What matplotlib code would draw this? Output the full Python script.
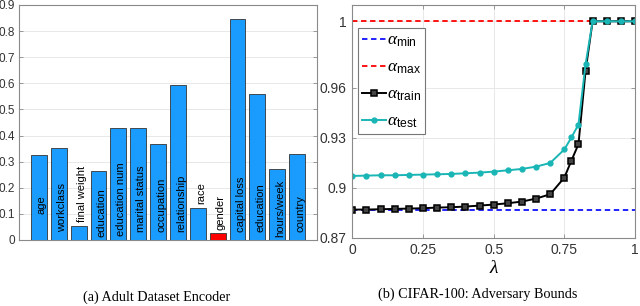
import numpy as np
import matplotlib
matplotlib.use('Agg')
import matplotlib.pyplot as plt
from matplotlib import rcParams
rcParams['font.family'] = 'sans-serif'
rcParams['font.sans-serif'] = ['Liberation Sans', 'DejaVu Sans']
rcParams['mathtext.fontset'] = 'custom'
rcParams['mathtext.rm'] = 'Liberation Sans'
rcParams['mathtext.it'] = 'Liberation Serif:italic'

# (a) adult dataset encoder
features = ['age', 'workclass', 'final weight', 'education', 'education num',
            'marital status', 'occupation', 'relationship', 'race', 'gender',
            'capital loss', 'education', 'hours/week', 'country']
scores = [0.327, 0.352, 0.052, 0.263, 0.428, 0.430, 0.368, 0.595, 0.121,
          0.028, 0.848, 0.560, 0.270, 0.330]
label_base = [0.10, 0.03, 0.07, 0.01, 0.015, 0.03, 0.03, 0.03, 0.138,
              0.038, 0.03, 0.03, 0.01, 0.03]

# (b) cifar-100 adversary bounds
lam = [0, 0.05, 0.1, 0.15, 0.2, 0.25, 0.3, 0.35, 0.4, 0.45, 0.5, 0.55, 0.6,
       0.65, 0.7, 0.75, 0.775, 0.8, 0.825, 0.85, 0.9, 0.95, 1.0]
a_train = [0.8869, 0.8869, 0.8871, 0.8873, 0.8875, 0.8877, 0.8881, 0.8883,
           0.8887, 0.8893, 0.8899, 0.8907, 0.8917, 0.8935, 0.8961, 0.9061,
           0.9163, 0.9262, 0.9701, 1.0, 1.0, 1.0, 1.0]
a_test = [0.9071, 0.9073, 0.9075, 0.9075, 0.9077, 0.9079, 0.9081, 0.9083,
          0.9087, 0.9091, 0.9097, 0.9105, 0.9113, 0.9127, 0.9149, 0.9230,
          0.9302, 0.9380, 0.9741, 1.0, 1.0, 1.0, 1.0]
a_min = 0.8869
a_max = 1.0

fig = plt.figure(figsize=(6.4, 3.06), dpi=100)
spine_col = '#8a8a8a'

# ---- left panel
ax1 = fig.add_axes([0.0297, 0.2157, 0.4656, 0.768])
x = np.arange(1, len(scores) + 1)
cols = ['#1a9cff'] * len(scores)
cols[features.index('gender')] = '#ff0000'
ax1.bar(x, scores, width=0.8, color=cols, edgecolor='#333333', linewidth=0.6, zorder=3)
for xi, name, yb in zip(x, features, label_base):
    ax1.text(xi + 0.15, yb, name, rotation=90, ha='center', va='bottom', fontsize=8, zorder=4)
ax1.set_xlim(0, 15)
ax1.set_ylim(0, 0.9)
ax1.set_xticks([])
ax1.set_yticks(np.arange(0, 0.91, 0.1))
ax1.set_yticklabels(['0', '0.1', '0.2', '0.3', '0.4', '0.5', '0.6', '0.7', '0.8', '0.9'])
ax1.yaxis.grid(True, color='#e8e8e8', linewidth=0.7, zorder=0)
ax1.set_axisbelow(True)
ax1.tick_params(axis='y', direction='in', length=3, width=0.6, color=spine_col,
                labelsize=8.5, labelcolor='#333333', right=True, pad=3)
for s in ax1.spines.values():
    s.set_color(spine_col)
    s.set_linewidth(0.8)

# ---- right panel
ax2 = fig.add_axes([0.5505, 0.2232, 0.4417, 0.7605])
ax2.axhline(a_min, color='#1010ff', linestyle=(0, (3, 2)), linewidth=1.3, label=r'$\alpha_{\mathrm{min}}$')
ax2.axhline(a_max, color='#ff0000', linestyle=(0, (3, 2)), linewidth=1.3, label=r'$\alpha_{\mathrm{max}}$')
ax2.plot(lam, a_train, color='black', marker='s', markersize=4, markerfacecolor='#444444',
         markeredgewidth=1.1, linewidth=1.4, label=r'$\alpha_{\mathrm{train}}$')
ax2.plot(lam, a_test, color='#1ab5b5', marker='o', markersize=3.5, linewidth=1.4,
         label=r'$\alpha_{\mathrm{test}}$')
ax2.set_xlim(0, 1)
ax2.set_ylim(0.87, 1.0098)
ax2.set_xticks([0, 0.25, 0.5, 0.75, 1])
ax2.set_xticklabels(['0', '0.25', '0.5', '0.75', '1'])
ax2.set_yticks([0.87, 0.9, 0.93, 0.96, 1])
ax2.set_yticklabels(['0.87', '0.9', '0.93', '0.96', '1'])
ax2.grid(True, color='#e8e8e8', linewidth=0.7)
ax2.set_axisbelow(True)
ax2.tick_params(direction='in', length=3, width=0.6, color=spine_col,
                labelsize=10, labelcolor='#333333', top=True, right=True, pad=4)
ax2.set_xlabel('λ', fontsize=14, family='Liberation Serif', style='italic', labelpad=2)
for s in ax2.spines.values():
    s.set_color(spine_col)
    s.set_linewidth(0.8)
leg = ax2.legend(loc='upper left', bbox_to_anchor=(0.02, 0.90), fontsize=12.5,
                 handlelength=1.35, handletextpad=0.05, borderpad=0.25, labelspacing=0.6,
                 fancybox=False, framealpha=1, edgecolor='#777777', borderaxespad=0)
leg.get_frame().set_linewidth(0.8)

# captions
fig.text(0.245, 0.028, '(a) Adult Dataset Encoder', ha='center', va='center',
         family='Liberation Serif', fontsize=10.2)
fig.text(0.747, 0.04, '(b) CIFAR-100: Adversary Bounds', ha='center', va='center',
         family='Liberation Serif', fontsize=10.2)

fig.savefig('out.png', dpi=100)
